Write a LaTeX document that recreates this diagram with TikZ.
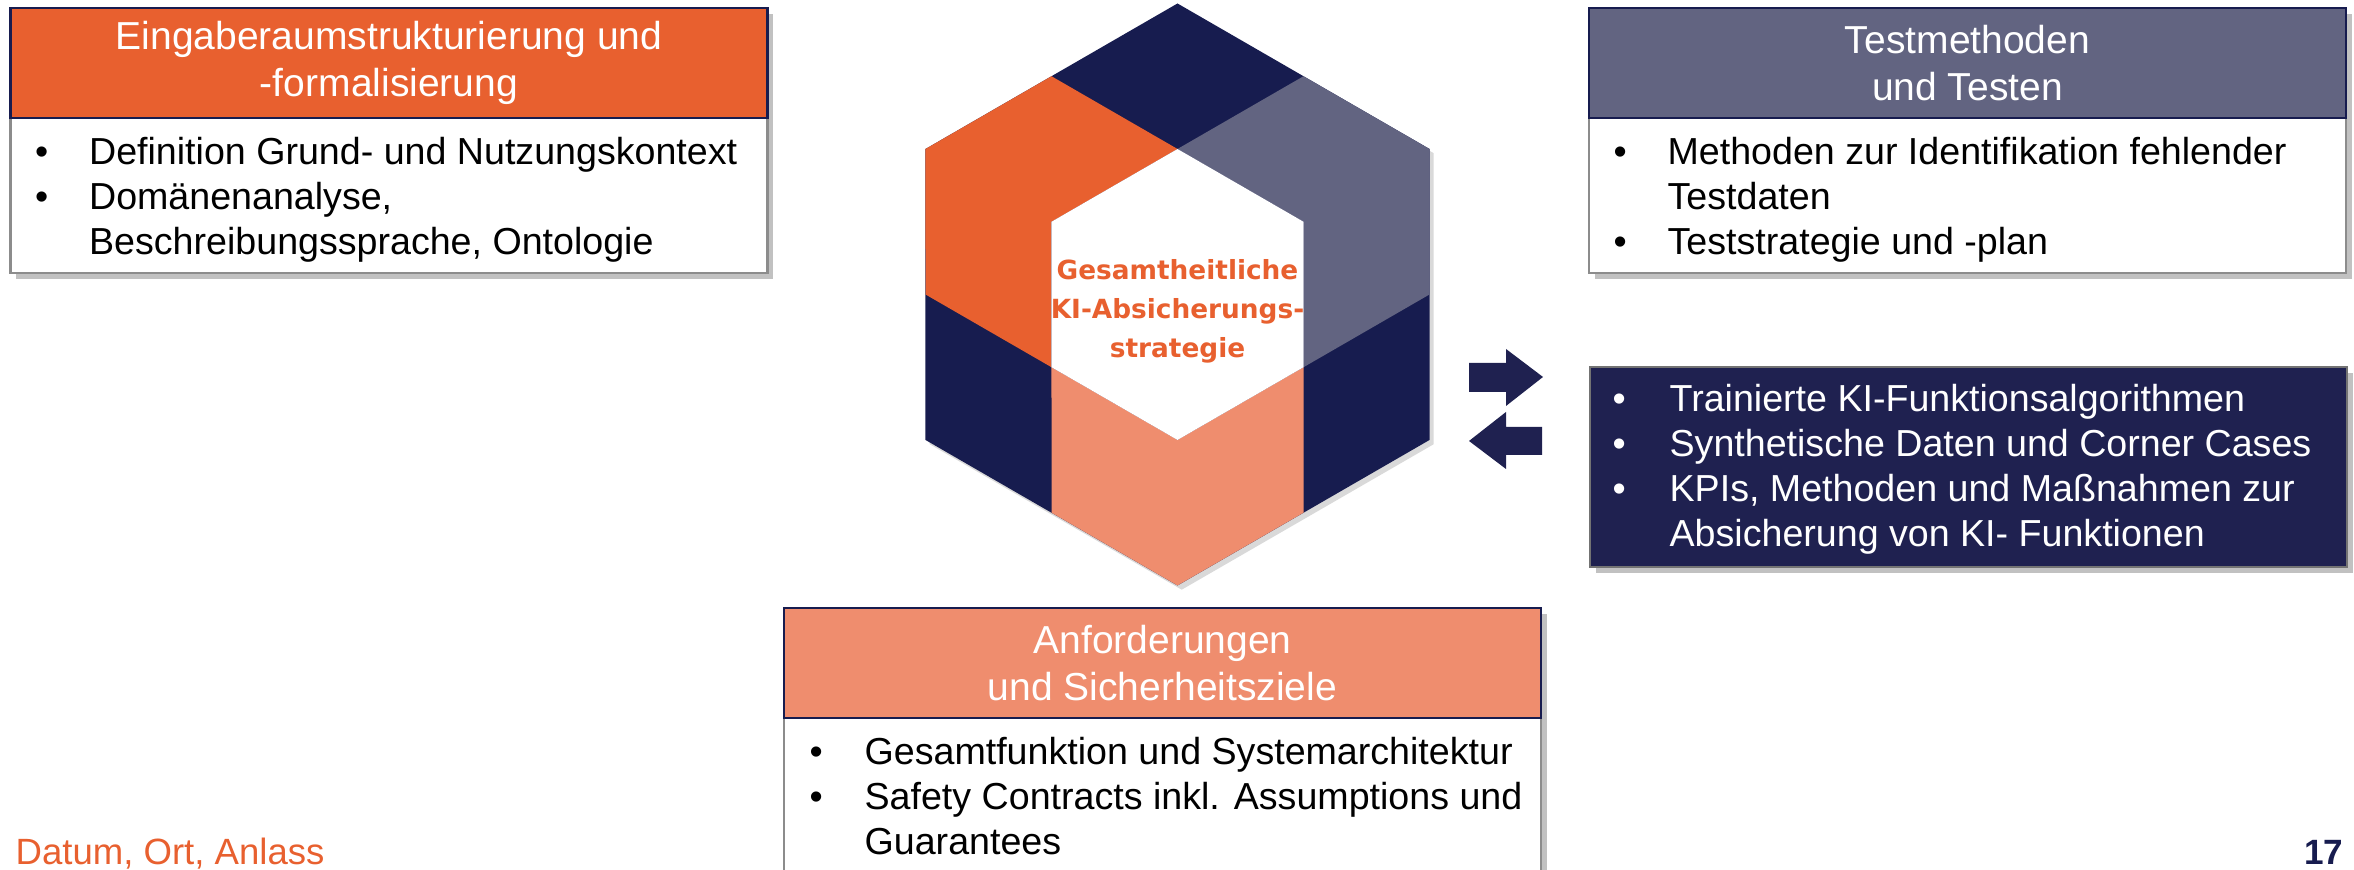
\documentclass[tikz,border=0pt]{standalone}
\usepackage{fontspec}
\setmainfont{Liberation Sans}
\newfontfamily\goalfont{DejaVu Sans}
\usetikzlibrary{positioning,shadows}

\definecolor{kiorange}{HTML}{E8602F}
\definecolor{kinavy}{HTML}{171C4F}
\definecolor{kislate}{HTML}{626481}
\definecolor{kisalmon}{HTML}{EF8D6E}
\definecolor{kidark}{HTML}{1F2150}

\newcommand{\headfont}{\fontsize{11.1pt}{13.3pt}\selectfont}
\newcommand{\listfont}{\fontsize{10.7pt}{12.8pt}\selectfont}

\begin{document}
\begin{tikzpicture}[
  boxshadow/.style={drop shadow={shadow xshift=1.7pt,shadow yshift=-1.7pt,opacity=0.35,fill=black!70}},
  box/.style={draw=black!45,line width=0.6pt,fill=white,minimum width=7.57cm,inner sep=0pt,anchor=north,boxshadow},
  head/.style={draw=kinavy,line width=0.6pt,minimum width=7.57cm,minimum height=1.1cm,inner sep=0pt,align=center,text=white,font=\headfont},
  list/.style={inner sep=0pt,align=left,font=\listfont},
  goal/.style={inner sep=0pt,align=center,text=kiorange,font=\goalfont\bfseries\fontsize{7.5pt}{11.1pt}\selectfont},
]
  \useasboundingbox (0,0) rectangle (23.54,8.70);

  % hexagon
  \begin{scope}[shift={(11.775,5.755)}]
    \fill[kinavy,drop shadow={shadow xshift=1.2pt,shadow yshift=-1.2pt,opacity=0.25,fill=black!60}]
      (90:2.91) \foreach \a in {150,210,...,390}{ -- (\a:2.91)} -- cycle;
    \fill[kiorange] (120:2.52) -- (150:2.91) -- (180:2.52) -- (210:1.455) -- (150:1.455) -- (90:1.455) -- cycle;
    \fill[kislate] (60:2.52) -- (30:2.91) -- (0:2.52) -- (330:1.455) -- (30:1.455) -- (90:1.455) -- cycle;
    \fill[kisalmon] (210:1.455) -- (240:2.52) -- (270:2.91) -- (300:2.52) -- (330:1.455) -- (270:1.455) -- cycle;
    \fill[white] (90:1.455) \foreach \a in {150,210,...,390}{ -- (\a:1.455)} -- cycle;
    \node[goal] (goal) at (0,-0.17) {Gesamtheitliche\\KI-Absicherungs-\\strategie};
  \end{scope}

  % input space
  \node[box,minimum height=2.65cm] (inputBox) at (3.89,8.63) {};
  \node[head,fill=kiorange,below=0pt of inputBox.north] (inputHead) {Eingaberaumstrukturierung und\\-formalisierung};
  \node[list,below right=0.135cm and 0.25cm of inputHead.south west] (inputList) {%
    \begin{tabular}{@{}p{0.54cm}@{}l@{}}
      \textbullet & Definition Grund- und Nutzungskontext\\
      \textbullet & Domänenanalyse,\\
                  & Beschreibungssprache, Ontologie
    \end{tabular}};

  % testing
  \node[box,minimum height=2.65cm] (testBox) at (19.675,8.63) {};
  \node[head,fill=kislate,below=0pt of testBox.north] (testHead) {Testmethoden\\und Testen};
  \node[list,below right=0.135cm and 0.25cm of testHead.south west] (testList) {%
    \begin{tabular}{@{}p{0.54cm}@{}l@{}}
      \textbullet & Methoden zur Identifikation fehlender\\
                  & Testdaten\\
      \textbullet & Teststrategie und -plan
    \end{tabular}};

  % exchanged results
  \node[box,draw=black!55,fill=kidark,minimum height=2.0cm] (dataBox) at (19.685,5.04) {};
  \node[list,text=white,below right=0.135cm and 0.23cm of dataBox.north west] (dataList) {%
    \begin{tabular}{@{}p{0.57cm}@{}l@{}}
      \textbullet & Trainierte KI-Funktionsalgorithmen\\
      \textbullet & Synthetische Daten und Corner Cases\\
      \textbullet & KPIs, Methoden und Maßnahmen zur\\
                  & Absicherung von KI- Funktionen
    \end{tabular}};

  \fill[kidark] (14.69,4.78) -- (15.06,4.78) -- (15.06,4.64) -- (15.43,4.93)
    -- (15.06,5.21) -- (15.06,5.07) -- (14.69,5.07) -- cycle;
  \fill[kidark] (15.42,4.15) -- (15.06,4.15) -- (15.06,4.01) -- (14.69,4.29)
    -- (15.06,4.58) -- (15.06,4.43) -- (15.42,4.43) -- cycle;

  % requirements
  \node[box,minimum height=2.75cm] (reqBox) at (11.625,2.63) {};
  \node[head,fill=kisalmon,below=0pt of reqBox.north] (reqHead) {Anforderungen\\und Sicherheitsziele};
  \node[list,below right=0.135cm and 0.26cm of reqHead.south west] (reqList) {%
    \begin{tabular}{@{}p{0.55cm}@{}l@{}}
      \textbullet & Gesamtfunktion und Systemarchitektur\\
      \textbullet & Safety Contracts inkl. Assumptions und\\
                  & Guarantees
    \end{tabular}};

  % footer
  \node[anchor=base west,inner sep=0pt,text=kiorange,font=\fontsize{10.4pt}{12pt}\selectfont] (event) at (0.15,0.05) {Datum, Ort, Anlass};
  \node[anchor=base east,inner sep=0pt,text=kinavy,font=\bfseries\fontsize{10pt}{12pt}\selectfont] (page) at (23.44,0.05) {17};
\end{tikzpicture}
\end{document}
